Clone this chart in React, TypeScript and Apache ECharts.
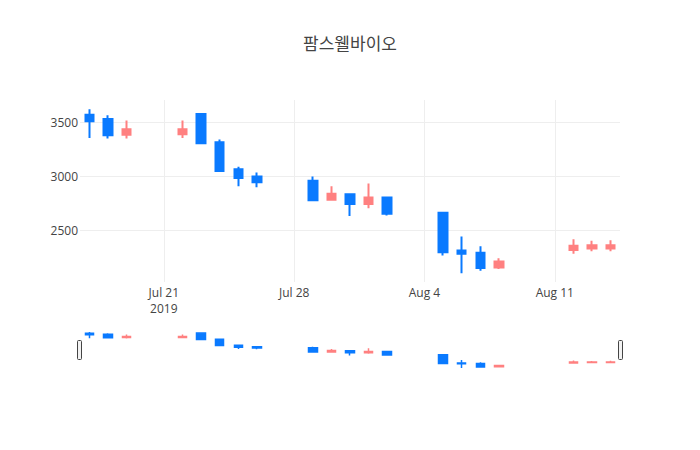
import React, { useEffect, useRef } from "react";
import * as echarts from "echarts";

const TITLE = "팜스웰바이오";
const dates = [
  "2019-07-17", "2019-07-18", "2019-07-19", "2019-07-22", "2019-07-23",
  "2019-07-24", "2019-07-25", "2019-07-26", "2019-07-29", "2019-07-30",
  "2019-07-31", "2019-08-01", "2019-08-02", "2019-08-05", "2019-08-06",
  "2019-08-07", "2019-08-08", "2019-08-12", "2019-08-13", "2019-08-14",
];
const openValues = [3570, 3530, 3385, 3390, 3575, 3315, 3065, 3000, 2960, 2785, 2835, 2745, 2805, 2665, 2315, 2295, 2160, 2320, 2335, 2335];
const closeValues = [3510, 3380, 3435, 3435, 3305, 3050, 2985, 2945, 2780, 2840, 2745, 2805, 2655, 2300, 2285, 2155, 2215, 2360, 2365, 2365];
const lowValues = [3355, 3350, 3350, 3355, 3305, 3050, 2910, 2900, 2780, 2775, 2635, 2705, 2640, 2270, 2105, 2130, 2145, 2285, 2310, 2310];
const highValues = [3620, 3565, 3515, 3515, 3575, 3340, 3090, 3035, 3000, 2910, 2840, 2935, 2805, 2665, 2445, 2355, 2245, 2420, 2405, 2410];
const yTicks = [2500, 3000, 3500];
// x is measured in weeks since Sunday 2019-07-14
const xTickLabels: Record<number, string> = {
  1: "Jul 21\n2019",
  2: "Jul 28",
  3: "Aug 4",
  4: "Aug 11",
};

const EPOCH = Date.UTC(2019, 6, 14);
const WEEK = 7 * 86400000;
const toWeek = (d: string) => {
  const [y, m, dd] = d.split("-").map(Number);
  return (Date.UTC(y, m - 1, dd) - EPOCH) / WEEK;
};

const UP = "#ff8080";
const DOWN = "#0a7aff";
const FONT = '"Open Sans", "Noto Sans CJK KR", sans-serif';

export default function App() {
  const ref = useRef<HTMLDivElement>(null);
  useEffect(() => {
    document.body.style.margin = "0";
    if (!ref.current) return;
    const chart = echarts.init(ref.current, null, { renderer: "svg" });
    const data = dates.map((d, i) => [toWeek(d), openValues[i], closeValues[i], lowValues[i], highValues[i]]);
    const itemStyle = {
      color: UP,
      color0: DOWN,
      borderColor: UP,
      borderColor0: DOWN,
      borderWidth: 2,
    };
    const xMin = toWeek("2019-07-16") + 0.5 / 7;
    const xMax = toWeek("2019-08-14") + 0.5 / 7;
    const yMin = 2025;
    const yMax = 3705;
    const isInt = (v: number) => Math.abs(v - Math.round(v)) < 1e-6;
    chart.setOption({
      animation: false,
      backgroundColor: "#fff",
      title: {
        text: TITLE,
        left: "center",
        top: 30,
        textStyle: { fontFamily: FONT, fontSize: 17, fontWeight: "normal", color: "#444" },
      },
      grid: [
        { left: 80, width: 540, top: 100, height: 182 },
        { left: 80, width: 540, top: 330, height: 40 },
      ],
      xAxis: [
        {
          type: "value",
          gridIndex: 0,
          min: xMin,
          max: xMax,
          splitNumber: 4,
          minInterval: 1,
          maxInterval: 1,
          axisLine: { show: false },
          axisTick: { show: false },
          splitLine: { show: true, showMinLine: false, showMaxLine: false, lineStyle: { color: "#eee", width: 1 } },
          axisLabel: {
            showMinLabel: false,
            showMaxLabel: false,
            margin: 2,
            color: "#444",
            fontSize: 12,
            fontFamily: FONT,
            lineHeight: 16,
            formatter: (v: number) => (isInt(v) && xTickLabels[Math.round(v)] ? xTickLabels[Math.round(v)] : ""),
          },
        },
        {
          type: "value",
          gridIndex: 1,
          min: xMin,
          max: xMax,
          show: false,
          splitLine: { show: false },
        },
      ],
      yAxis: [
        {
          type: "value",
          gridIndex: 0,
          min: yMin,
          max: yMax,
          splitNumber: 3,
          minInterval: 500,
          maxInterval: 500,
          axisLine: { show: false },
          axisTick: { show: false },
          splitLine: { show: true, showMinLine: false, showMaxLine: false, lineStyle: { color: "#eee", width: 1 } },
          axisLabel: {
            showMinLabel: false,
            showMaxLabel: false,
            margin: 2,
            color: "#444",
            fontSize: 12,
            fontFamily: FONT,
            formatter: (v: number) => (yTicks.includes(v) ? String(v) : ""),
          },
        },
        {
          type: "value",
          gridIndex: 1,
          min: yMin,
          max: yMax,
          show: false,
          splitLine: { show: false },
        },
      ],
      series: [
        {
          type: "candlestick",
          xAxisIndex: 0,
          yAxisIndex: 0,
          barWidth: 9,
          data,
          itemStyle,
        },
        {
          type: "candlestick",
          xAxisIndex: 1,
          yAxisIndex: 1,
          barWidth: 9,
          data,
          itemStyle: { ...itemStyle, borderWidth: 1.5 },
        },
      ],
      graphic: [
        {
          type: "rect",
          shape: { x: 77.5, y: 340.5, width: 4, height: 19, r: 1 },
          style: { fill: "#f2f2f2", stroke: "#444", lineWidth: 1 },
        },
        {
          type: "rect",
          shape: { x: 618.5, y: 340.5, width: 4, height: 19, r: 1 },
          style: { fill: "#f2f2f2", stroke: "#444", lineWidth: 1 },
        },
      ],
    });
    return () => chart.dispose();
  }, []);
  return <div ref={ref} style={{ width: 700, height: 450 }} />;
}
